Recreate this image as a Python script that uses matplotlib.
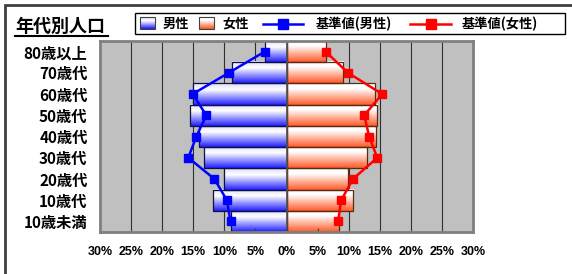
import matplotlib
matplotlib.use("Agg")
import matplotlib.pyplot as plt
import numpy as np
from matplotlib.colors import LinearSegmentedColormap
from matplotlib.patches import Rectangle
from matplotlib.lines import Line2D

plt.rcParams["font.family"] = ["Noto Sans CJK JP", "DejaVu Sans"]

# data (percent of population)
age_groups = ["10歳未満", "10歳代", "20歳代", "30歳代", "40歳代",
              "50歳代", "60歳代", "70歳代", "80歳以上"]
male = [9.0, 11.8, 10.0, 13.2, 14.1, 15.6, 15.0, 8.7, 3.4]
female = [8.4, 10.7, 9.9, 13.0, 14.4, 14.5, 14.3, 9.1, 6.3]
male_ref = [9.0, 9.6, 11.6, 15.8, 14.5, 12.9, 15.1, 9.3, 3.5]
female_ref = [8.3, 8.8, 10.7, 14.6, 13.3, 12.5, 15.4, 9.9, 6.3]
xticks = [-30, -25, -20, -15, -10, -5, 0, 5, 10, 15, 20, 25, 30]
legend_labels = ["男性", "女性", "基準値(男性)", "基準値(女性)"]

W, H = 572, 274
fig = plt.figure(figsize=(W / 100, H / 100), dpi=100)


def fx(px):
    return px / W


def fy(py):
    return 1 - py / H


blue_cm = LinearSegmentedColormap.from_list(
    "m", [(0, "#dcdcff"), (0.3, "#ffffff"), (1, "#2020ff")])
red_cm = LinearSegmentedColormap.from_list(
    "f", [(0, "#ffffff"), (0.25, "#ffffff"), (1, "#ff5a28")])

ax = fig.add_axes([fx(100), fy(232), 373 / W, 191 / H])
ax.set_facecolor("#c0c0c0")
ax.set_xlim(-30, 30)
ax.set_ylim(-0.5, len(age_groups) - 0.5)

for x in xticks[1:-1]:
    ax.axvline(x, color="#303030", lw=0.8, zorder=0.5)

grad = np.linspace(0, 1, 64).reshape(-1, 1)
y = np.arange(len(age_groups))
for i in range(len(age_groups)):
    y0, y1 = i - 0.5, i + 0.5
    ax.imshow(grad, cmap=blue_cm, extent=(-male[i], 0, y0, y1),
              aspect="auto", origin="upper", zorder=1)
    ax.imshow(grad, cmap=red_cm, extent=(0, female[i], y0, y1),
              aspect="auto", origin="upper", zorder=1)
ax.barh(y, [-v for v in male], height=1.0, facecolor="none",
        edgecolor="#101040", lw=0.9, zorder=1.2)
ax.barh(y, female, height=1.0, facecolor="none",
        edgecolor="#5a2a10", lw=0.9, zorder=1.2)
ax.axvline(0, color="#505050", lw=1.2, zorder=1.3)

ax.plot([-v for v in male_ref], y, color="#0000ff", lw=1.8,
        marker="s", ms=6, zorder=3)
ax.plot(female_ref, y, color="#ff0000", lw=1.8,
        marker="s", ms=6, zorder=3)

ax.set_xticks(xticks)
ax.set_xticklabels([f"{abs(v)}%" for v in xticks], fontsize=9,
                   fontweight="bold", family="Liberation Sans")
ax.tick_params(axis="x", direction="in", length=3, pad=10,
               color="#404040")
ax.set_yticks(y)
ax.set_yticklabels(age_groups, fontsize=11, fontweight="bold")
ax.tick_params(axis="y", length=0, pad=9)
for s in ax.spines.values():
    s.set_color("#808080")
    s.set_linewidth(2)

# legend, built by hand so the keys match the original widths
fig.add_artist(Rectangle((fx(135), fy(34)), fx(565) - fx(135), fy(13) - fy(34),
                         fill=False, edgecolor="black", lw=1,
                         transform=fig.transFigure))
for x0, cm in [(140, blue_cm), (199, red_cm)]:
    n = 12
    for k in range(n):
        fig.add_artist(Rectangle((fx(x0), fy(17 + 12 * (k + 1) / n)), fx(15),
                                 12 / n / H + 0.001,
                                 facecolor=cm(k / (n - 1)), edgecolor="none",
                                 transform=fig.transFigure))
    fig.add_artist(Rectangle((fx(x0), fy(29)), fx(15), 12 / H, fill=False,
                             edgecolor="#404040", lw=0.8,
                             transform=fig.transFigure))
for (x0, x1), c in [((263, 303), "#0000ff"), ((410, 451), "#ff0000")]:
    fig.add_artist(Line2D([fx(x0), fx(x1)], [fy(23.5)] * 2, color=c, lw=1.8,
                          transform=fig.transFigure))
    fig.add_artist(Line2D([fx((x0 + x1) / 2)], [fy(23.5)], color=c,
                          marker="s", ms=7, transform=fig.transFigure))
for x0, lab in zip([163, 222, 316, 462], legend_labels):
    fig.text(fx(x0), fy(23.5), lab, fontsize=9.5, fontweight="bold",
             va="center", ha="left")

fig.text(fx(15), fy(26), "年代別人口", fontsize=13, fontweight="bold",
         va="center", ha="left")
fig.add_artist(Line2D([fx(15), fx(108)], [fy(35.5)] * 2,
                      color="black", lw=1.5))
fig.add_artist(Rectangle((fx(5), -0.1), 1.2, fy(5) + 0.1, fill=False,
                         edgecolor="#404040", lw=2, transform=fig.transFigure))

fig.savefig("out.png", dpi=100)
